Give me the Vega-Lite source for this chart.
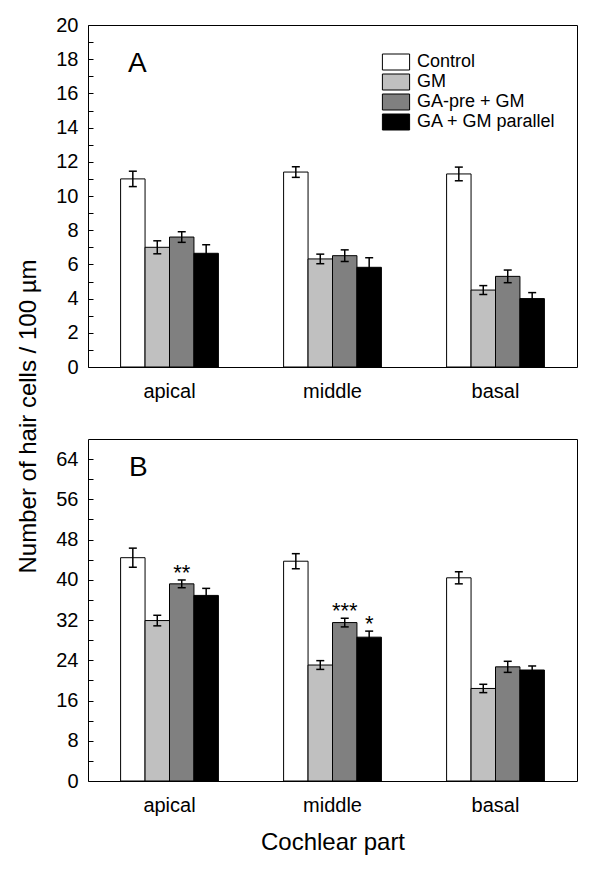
{
  "$schema": "https://vega.github.io/schema/vega-lite/v6.json",
  "bounds": "flush",
  "spacing": 72,
  "padding": {"left": 15, "top": 14, "right": 5, "bottom": 5},
  "config": {
    "font": "Liberation Sans",
    "view": {"stroke": "black", "strokeWidth": 1},
    "axis": {"labelColor": "black", "tickColor": "black", "titleColor": "black", "labelFont": "Liberation Sans", "titleFont": "Liberation Sans", "grid": false, "domain": false, "labelOverlap": false},
    "title": {"font": "Liberation Sans", "color": "black"},
    "legend": {"labelFont": "Liberation Sans", "labelColor": "black"}
  },
  "datasets": {
    "A": [
      {"part": "apical", "treatment": "Control", "mean": 11.0, "lo": 10.55, "hi": 11.45},
      {"part": "apical", "treatment": "GM", "mean": 7.0, "lo": 6.62, "hi": 7.38},
      {"part": "apical", "treatment": "GA-pre + GM", "mean": 7.6, "lo": 7.29, "hi": 7.91},
      {"part": "apical", "treatment": "GA + GM parallel", "mean": 6.65, "lo": 6.15, "hi": 7.15},
      {"part": "middle", "treatment": "Control", "mean": 11.4, "lo": 11.09, "hi": 11.71},
      {"part": "middle", "treatment": "GM", "mean": 6.32, "lo": 6.04, "hi": 6.6},
      {"part": "middle", "treatment": "GA-pre + GM", "mean": 6.51, "lo": 6.17, "hi": 6.85},
      {"part": "middle", "treatment": "GA + GM parallel", "mean": 5.83, "lo": 5.27, "hi": 6.39},
      {"part": "basal", "treatment": "Control", "mean": 11.29, "lo": 10.89, "hi": 11.69},
      {"part": "basal", "treatment": "GM", "mean": 4.5, "lo": 4.24, "hi": 4.76},
      {"part": "basal", "treatment": "GA-pre + GM", "mean": 5.3, "lo": 4.93, "hi": 5.67},
      {"part": "basal", "treatment": "GA + GM parallel", "mean": 4.0, "lo": 3.65, "hi": 4.35}
    ],
    "B": [
      {"part": "apical", "treatment": "Control", "mean": 44.4, "lo": 42.5, "hi": 46.3, "sig": ""},
      {"part": "apical", "treatment": "GM", "mean": 31.9, "lo": 30.85, "hi": 32.95, "sig": ""},
      {"part": "apical", "treatment": "GA-pre + GM", "mean": 39.2, "lo": 38.43, "hi": 39.97, "sig": "**"},
      {"part": "apical", "treatment": "GA + GM parallel", "mean": 36.9, "lo": 35.5, "hi": 38.3, "sig": ""},
      {"part": "middle", "treatment": "Control", "mean": 43.7, "lo": 42.2, "hi": 45.2, "sig": ""},
      {"part": "middle", "treatment": "GM", "mean": 23.06, "lo": 22.19, "hi": 23.93, "sig": ""},
      {"part": "middle", "treatment": "GA-pre + GM", "mean": 31.5, "lo": 30.64, "hi": 32.36, "sig": "***"},
      {"part": "middle", "treatment": "GA + GM parallel", "mean": 28.6, "lo": 27.4, "hi": 29.8, "sig": "*"},
      {"part": "basal", "treatment": "Control", "mean": 40.4, "lo": 39.2, "hi": 41.6, "sig": ""},
      {"part": "basal", "treatment": "GM", "mean": 18.4, "lo": 17.57, "hi": 19.23, "sig": ""},
      {"part": "basal", "treatment": "GA-pre + GM", "mean": 22.7, "lo": 21.6, "hi": 23.8, "sig": ""},
      {"part": "basal", "treatment": "GA + GM parallel", "mean": 22.07, "lo": 21.27, "hi": 22.87, "sig": ""}
    ]
  },
  "resolve": {"scale": {"y": "independent"}, "legend": {"fill": "independent"}},
  "vconcat": [
    {
      "width": 489,
      "height": 342,
      "data": {"name": "A"},
      "title": {"text": "A", "anchor": "start", "frame": "group", "orient": "top", "offset": -48, "dy": 37, "dx": 40, "fontSize": 28, "fontWeight": "normal", "baseline": "alphabetic"},
      "encoding": {
        "x": {"field": "part", "type": "nominal", "sort": ["apical", "middle", "basal"], "scale": {"paddingInner": 0.4, "paddingOuter": 0.2}, "axis": {"title": null, "labelAngle": 0, "ticks": false, "labelFontSize": 20, "labelPadding": 14}},
        "xOffset": {"field": "treatment", "type": "nominal", "sort": ["Control", "GM", "GA-pre + GM", "GA + GM parallel"], "scale": {"paddingInner": 0, "paddingOuter": 0}}
      },
      "layer": [
        {
          "mark": {"type": "bar", "stroke": "black", "strokeWidth": 1, "opacity": 1},
          "encoding": {
            "y": {"field": "mean", "type": "quantitative", "scale": {"domain": [0, 20], "nice": false, "zero": true},
              "axis": {"values": [0,1,2,3,4,5,6,7,8,9,10,11,12,13,14,15,16,17,18,19,20], "labelExpr": "datum.value % 2 === 0 ? datum.label : ''", "labelOverlap": false, "ticks": true, "tickSize": 5, "offset": -5, "labelPadding": 10, "labelFontSize": 20, "title": "Number of hair cells / 100 µm", "titleFontSize": 24, "titleFontWeight": "normal", "titleX": -65, "titleY": 391, "titleBaseline": "middle", "titleAlign": "center", "titleAngle": -90}},
            "fill": {"field": "treatment", "type": "nominal", "scale": {"domain": ["Control", "GM", "GA-pre + GM", "GA + GM parallel"], "range": ["#ffffff", "#c0c0c0", "#808080", "#000000"]},
              "legend": {"orient": "none", "legendX": 299, "legendY": 28, "title": null, "symbolType": "M-1.7,-1H1.7V1H-1.7Z", "symbolSize": 256, "symbolStrokeColor": "black", "symbolStrokeWidth": 1, "symbolOpacity": 1, "labelFontSize": 18, "labelOffset": 12, "rowPadding": 0}}
          }
        },
        {
          "mark": {"type": "rule", "strokeWidth": 1.5, "color": "black"},
          "encoding": {"y": {"field": "lo", "type": "quantitative",
              "axis": {"values": [0,1,2,3,4,5,6,7,8,9,10,11,12,13,14,15,16,17,18,19,20], "labelExpr": "datum.value % 2 === 0 ? datum.label : ''", "labelOverlap": false, "ticks": true, "tickSize": 5, "offset": -5, "labelPadding": 10, "labelFontSize": 20, "title": "Number of hair cells / 100 µm", "titleFontSize": 24, "titleFontWeight": "normal", "titleX": -65, "titleY": 391, "titleBaseline": "middle", "titleAlign": "center", "titleAngle": -90}}, "y2": {"field": "hi"}}
        },
        {
          "mark": {"type": "tick", "orient": "horizontal", "size": 8, "thickness": 1.5, "color": "black", "opacity": 1},
          "encoding": {"y": {"field": "lo", "type": "quantitative",
              "axis": {"values": [0,1,2,3,4,5,6,7,8,9,10,11,12,13,14,15,16,17,18,19,20], "labelExpr": "datum.value % 2 === 0 ? datum.label : ''", "labelOverlap": false, "ticks": true, "tickSize": 5, "offset": -5, "labelPadding": 10, "labelFontSize": 20, "title": "Number of hair cells / 100 µm", "titleFontSize": 24, "titleFontWeight": "normal", "titleX": -65, "titleY": 391, "titleBaseline": "middle", "titleAlign": "center", "titleAngle": -90}}}
        },
        {
          "mark": {"type": "tick", "orient": "horizontal", "size": 8, "thickness": 1.5, "color": "black", "opacity": 1},
          "encoding": {"y": {"field": "hi", "type": "quantitative",
              "axis": {"values": [0,1,2,3,4,5,6,7,8,9,10,11,12,13,14,15,16,17,18,19,20], "labelExpr": "datum.value % 2 === 0 ? datum.label : ''", "labelOverlap": false, "ticks": true, "tickSize": 5, "offset": -5, "labelPadding": 10, "labelFontSize": 20, "title": "Number of hair cells / 100 µm", "titleFontSize": 24, "titleFontWeight": "normal", "titleX": -65, "titleY": 391, "titleBaseline": "middle", "titleAlign": "center", "titleAngle": -90}}}
        }
      ]
    },
    {
      "width": 489,
      "height": 342,
      "data": {"name": "B"},
      "title": {"text": "B", "anchor": "start", "frame": "group", "orient": "top", "offset": -41, "dy": 24, "dx": 41, "fontSize": 28, "fontWeight": "normal", "baseline": "alphabetic"},
      "encoding": {
        "x": {"field": "part", "type": "nominal", "sort": ["apical", "middle", "basal"], "scale": {"paddingInner": 0.4, "paddingOuter": 0.2}, "axis": {"title": "Cochlear part", "labelAngle": 0, "ticks": false, "labelFontSize": 20, "labelPadding": 14, "titleFontSize": 24, "titleFontWeight": "normal", "titlePadding": 15}},
        "xOffset": {"field": "treatment", "type": "nominal", "sort": ["Control", "GM", "GA-pre + GM", "GA + GM parallel"], "scale": {"paddingInner": 0, "paddingOuter": 0}}
      },
      "layer": [
        {
          "mark": {"type": "bar", "stroke": "black", "strokeWidth": 1, "opacity": 1},
          "encoding": {
            "y": {"field": "mean", "type": "quantitative", "scale": {"domain": [0, 68], "nice": false, "zero": true},
              "axis": {"values": [0,4,8,12,16,20,24,28,32,36,40,44,48,52,56,60,64], "labelExpr": "datum.value % 8 === 0 ? datum.label : ''", "labelOverlap": false, "ticks": true, "tickSize": 5, "offset": -5, "labelPadding": 10, "labelFontSize": 20, "title": null}},
            "fill": {"field": "treatment", "type": "nominal", "scale": {"domain": ["Control", "GM", "GA-pre + GM", "GA + GM parallel"], "range": ["#ffffff", "#c0c0c0", "#808080", "#000000"]}, "legend": null}
          }
        },
        {
          "mark": {"type": "rule", "strokeWidth": 1.5, "color": "black"},
          "encoding": {"y": {"field": "lo", "type": "quantitative",
              "axis": {"values": [0,4,8,12,16,20,24,28,32,36,40,44,48,52,56,60,64], "labelExpr": "datum.value % 8 === 0 ? datum.label : ''", "labelOverlap": false, "ticks": true, "tickSize": 5, "offset": -5, "labelPadding": 10, "labelFontSize": 20, "title": null}}, "y2": {"field": "hi"}}
        },
        {
          "mark": {"type": "tick", "orient": "horizontal", "size": 8, "thickness": 1.5, "color": "black", "opacity": 1},
          "encoding": {"y": {"field": "lo", "type": "quantitative",
              "axis": {"values": [0,4,8,12,16,20,24,28,32,36,40,44,48,52,56,60,64], "labelExpr": "datum.value % 8 === 0 ? datum.label : ''", "labelOverlap": false, "ticks": true, "tickSize": 5, "offset": -5, "labelPadding": 10, "labelFontSize": 20, "title": null}}}
        },
        {
          "mark": {"type": "tick", "orient": "horizontal", "size": 8, "thickness": 1.5, "color": "black", "opacity": 1},
          "encoding": {"y": {"field": "hi", "type": "quantitative",
              "axis": {"values": [0,4,8,12,16,20,24,28,32,36,40,44,48,52,56,60,64], "labelExpr": "datum.value % 8 === 0 ? datum.label : ''", "labelOverlap": false, "ticks": true, "tickSize": 5, "offset": -5, "labelPadding": 10, "labelFontSize": 20, "title": null}}}
        },
        {
          "transform": [{"filter": "datum.sig != ''"}],
          "mark": {"type": "text", "fontSize": 22, "baseline": "alphabetic", "dy": 0, "color": "black"},
          "encoding": {"y": {"field": "hi", "type": "quantitative",
              "axis": {"values": [0,4,8,12,16,20,24,28,32,36,40,44,48,52,56,60,64], "labelExpr": "datum.value % 8 === 0 ? datum.label : ''", "labelOverlap": false, "ticks": true, "tickSize": 5, "offset": -5, "labelPadding": 10, "labelFontSize": 20, "title": null}}, "text": {"field": "sig"}}
        }
      ]
    }
  ]
}
